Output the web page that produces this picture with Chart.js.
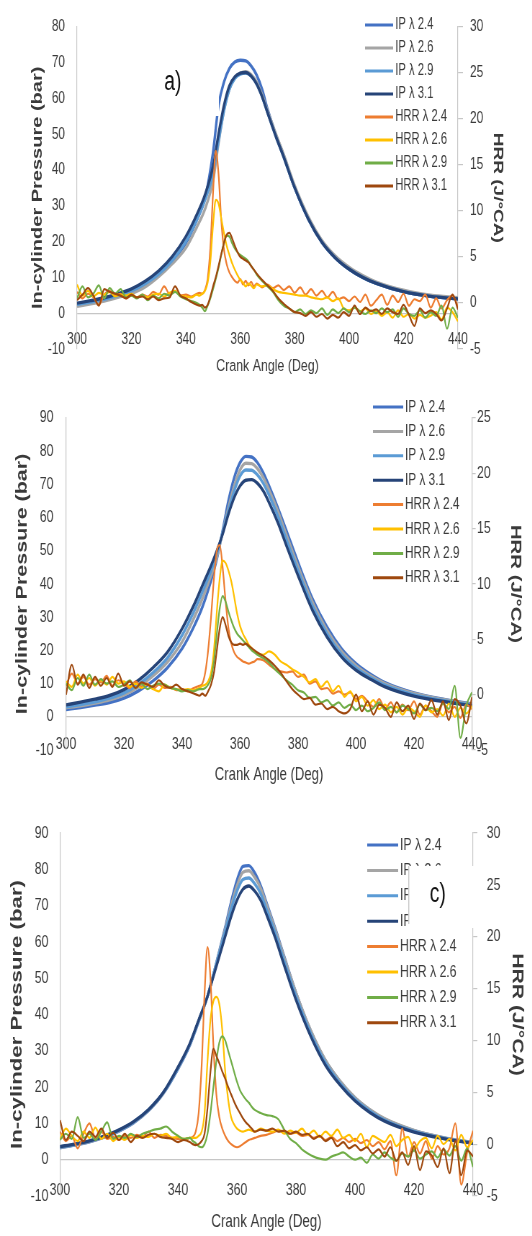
<!DOCTYPE html>
<html>
<head>
<meta charset="utf-8">
<script src="https://cdn.jsdelivr.net/npm/chart.js@4.4.1/dist/chart.umd.min.js"></script>
<style>
  html, body { margin: 0; padding: 0; background: #fff; overflow: hidden; }
  body { width: 532px; height: 1236px; position: relative; }
  .panel { position: absolute; left: 0; width: 739px; transform: scaleX(0.72); transform-origin: 0 0; }
  canvas { display: block; }
</style>
</head>
<body>
<div class="panel" style="top:0px"><canvas id="chartA" width="739" height="390"></canvas></div>
<div class="panel" style="top:390px"><canvas id="chartB" width="739" height="410"></canvas></div>
<div class="panel" style="top:800px"><canvas id="chartC" width="739" height="436"></canvas></div>
<script>
// crank angles (deg) for pressure and heat release rate curves
var ipAngle = [300,305,310,315,320,325,330,335,340,344,347,350,352,354,356,358,360,362,364,366,368,370,373,376,380,385,390,395,400,405,410,420,430,440];
var hrrAngle = [300,302,304,306,308,310,312,314,316,318,320,322,324,326,328,330,332,334,336,338,340,342,344,
  345,346,347,348,349,350,351,352,353,354,355,356,357,358,359,360,361,362,363,364,365,
  366,368,370,372,374,376,378,380,382,384,386,388,390,392,394,396,398,400,402,404,406,408,410,412,414,416,418,420,422,424,426,428,430,432,434,436,438,440];

var seriesNames = ["IP λ 2.4", "IP λ 2.6", "IP λ 2.9", "IP λ 3.1", "HRR λ 2.4", "HRR λ 2.6", "HRR λ 2.9", "HRR λ 3.1"];
var seriesColors = ["#4472C4", "#A5A5A5", "#5B9BD5", "#264478", "#ED7D31", "#FFC000", "#70AD47", "#9E480E"];

// ---- panel a) ----
var ipA24 = [2.3,2.9,3.7,4.7,6.0,7.9,10.7,14.5,19.6,26,32,45,58,64.5,68.3,70.1,70.6,70.4,69,66.5,62.5,57,50,44,35,26.3,19.8,15.4,12.3,10,8.3,6,4.7,4.0];
var ipA26 = [1.9,2.6,3.4,4.4,5.5,7.3,10.2,13.8,18.2,24,29,37,47.5,56.5,62.5,65.8,67,67.4,66.6,64.5,61,56.6,50.2,44.2,35.6,26.9,20.3,15.9,12.8,10.5,8.7,6.4,5.0,4.3];
var ipA29 = [2.5,3.1,3.9,4.9,6.2,8.2,10.9,14.7,20,26,31.5,39,48,56.5,62.5,65.5,66.7,67,66.2,64,60.5,56,49.5,43.5,35,26.3,19.8,15.4,12.3,10,8.3,6,4.7,4.0];
var ipA31 = [2.8,3.5,4.3,5.4,6.8,8.9,11.8,15.8,21.4,27.5,33,41,50,58,63.5,66,67,67.2,66.2,64,60.5,56,49.5,43.5,35,26.3,19.8,15.4,12.3,10,8.3,6,4.7,4.0];
var hrrA24 = [1.2,0.5,1.0,0.6,-0.2,0.9,1.3,0.8,1.0,0.5,0.8,0.6,0.9,0.7,1.2,0.9,1.8,1.0,1.3,0.8,0.9,0.7,1.0,
  1.1,1.0,1.4,2.6,6.0,12.0,16.5,14.0,9.0,5.8,4.2,3.3,2.8,2.4,2.2,2.6,2.0,2.4,1.9,2.3,1.8,
  2.1,1.7,2.0,1.6,1.9,1.4,1.8,1.1,1.7,0.9,1.5,0.8,1.3,0.6,1.2,0.4,0.6,0.2,0.7,0.1,0.9,-0.3,0.3,0.9,-0.2,0.8,0.1,1.0,-0.3,0.4,0.2,0.9,-0.5,0.5,-0.6,0.3,0.8,-0.4];
var hrrA26 = [2.0,0.8,1.3,0.7,1.1,0.9,1.2,0.7,0.9,0.8,1.0,0.6,0.8,0.6,0.9,1.0,0.7,1.1,1.3,0.8,0.7,0.6,0.9,
  0.8,1.0,1.3,2.2,4.5,8.5,11.2,10.8,9.2,7.6,6.2,5.2,4.3,3.6,3.0,2.5,2.2,1.8,2.1,1.9,1.6,
  2.0,1.8,1.9,1.5,1.2,1.1,1.0,0.9,0.8,0.8,0.6,0.5,0.4,0.6,0.2,0.5,-0.6,-0.8,-0.5,-0.9,-0.6,-1.2,-0.9,-1.4,-1.0,-1.6,-0.8,-1.5,-1.2,-1.7,-1.3,-1.6,-1.4,-1.0,-1.8,-0.5,-1.0,-2.0];
var hrrA29 = [0.5,1.8,0.6,1.0,1.9,0.5,1.6,1.0,1.5,0.6,0.8,0.5,0.9,0.3,0.8,0.5,1.0,0.8,1.2,0.7,0.4,0.2,0.0,
  -0.2,-0.5,-0.9,-0.3,0.5,1.5,2.6,3.8,5.2,6.5,7.3,7.2,6.5,5.9,5.5,5.2,5.0,4.8,4.5,4.0,3.6,
  3.1,2.4,1.8,1.2,0.3,-0.3,-0.6,-1.0,-0.7,-1.2,-0.8,-1.1,-0.6,-1.3,-0.7,-1.1,-0.6,-1.0,-0.5,-0.9,-1.2,-0.8,-1.1,-0.6,-1.0,-0.7,-1.5,-0.6,-1.2,-1.4,-0.8,-1.6,-1.0,-1.4,-0.3,-2.8,-0.5,-1.6];
var hrrA31 = [0.3,0.9,1.6,0.8,-0.3,1.5,1.2,1.0,0.8,0.5,0.9,0.6,0.7,0.4,0.7,0.3,0.5,0.6,1.8,0.8,0.5,0.1,-0.2,
  -0.3,-0.2,-0.5,-0.2,0.7,1.8,2.8,4.0,5.3,6.5,7.4,7.6,7.0,6.2,5.5,5.0,4.8,4.6,4.4,4.0,3.6,
  3.2,2.5,1.9,1.3,0.5,-0.1,-0.6,-1.0,-1.1,-1.4,-1.0,-1.5,-1.2,-1.7,-1.3,-1.6,-1.0,-1.4,-0.3,-1.2,-0.5,-0.9,-0.7,-1.2,-0.6,-1.0,-1.2,-0.2,-1.3,-2.5,-0.6,-1.1,-0.8,-1.2,-1.9,-0.6,0.9,-0.7];

// ---- panel b) ----
var ipB24 = [2.2,2.8,3.5,4.3,5.6,7.8,10.8,14.8,20.5,27,33,41,47.5,56,65,72,76.5,78.4,78.2,76.5,73.5,69.5,63,56,46.5,35.5,27,20.5,16,12.8,10.3,7.2,5.3,3.9];
var ipB26 = [2.7,3.3,4.1,5.1,6.6,9,12.3,16.5,22.5,29.5,35.5,42.5,48,55.5,63,69.5,74.3,76.3,76.2,74.7,72,68.3,62,54.7,45.3,34.5,26,19.7,15.4,12.3,10,7,5.2,3.7];
var ipB29 = [3.0,3.7,4.5,5.6,7.2,9.8,13.3,17.8,24.5,31.5,37.5,44,49,55.5,62,68,72.5,74.3,74.2,72.8,70.3,66.7,60.5,53.3,44,33.3,25,18.8,14.7,11.8,9.5,6.6,4.9,3.5];
var ipB31 = [3.6,4.4,5.3,6.4,8.2,11,14.8,19.5,26.5,33.5,39.5,45.5,50,55,61,66,69.5,71.2,71.4,70.3,68,64.5,58.5,51.5,42.5,32,24,18,14,11.3,9,6.2,4.6,3.3];
var hrrB24 = [0.8,1.9,1.0,1.6,0.9,1.4,1.1,1.7,0.8,1.3,1.0,0.6,1.2,0.7,1.0,0.5,0.9,0.6,0.7,0.4,0.5,0.3,0.6,
  0.7,0.8,1.0,2.0,4.0,7.0,10.5,13.0,13.5,11.5,8.5,6.0,4.6,3.8,3.4,3.2,3.0,2.9,2.8,2.9,3.0,
  3.2,3.1,2.7,2.3,2.1,2.0,2.1,1.6,1.8,1.0,1.2,0.5,0.6,0.1,0.3,0.0,0.2,-0.4,-0.1,-0.6,-1.1,-0.4,-1.3,-0.7,-1.6,-0.9,-1.4,-0.6,-1.8,-1.0,-1.5,-2.0,-0.8,-1.6,-1.1,-2.1,-0.9,-1.3];
var hrrB26 = [1.2,0.7,1.8,1.0,1.5,0.8,1.3,0.9,1.6,1.0,1.2,0.7,1.0,0.6,0.9,0.5,0.3,0.9,0.6,0.5,0.4,0.5,0.4,
  0.5,0.6,0.8,0.9,1.2,2.0,4.0,7.5,10.5,12.1,11.9,11.2,10.2,8.8,7.3,6.2,5.5,5.0,4.5,4.2,3.9,
  3.7,3.6,3.9,3.6,3.0,2.7,2.3,2.0,1.6,1.1,1.4,0.7,1.2,0.3,0.8,-0.2,0.3,-0.6,-0.2,-1.0,-0.5,-1.3,-0.9,-1.6,-1.1,-1.8,-1.2,-1.5,-2.0,-1.0,-1.6,-1.3,-1.9,-0.8,-2.0,-1.2,-1.7,-1.0];
var hrrB29 = [1.0,0.4,1.5,0.8,1.8,0.9,1.4,1.0,1.2,0.7,0.9,1.3,0.6,1.0,0.5,0.8,1.0,0.9,0.6,0.5,0.3,0.4,0.3,
  0.4,0.5,0.5,0.6,0.9,1.5,3.0,5.5,7.8,8.9,8.4,7.5,6.7,6.0,5.5,5.2,4.9,4.6,4.3,4.0,3.8,
  3.6,3.3,2.9,2.3,1.8,1.3,0.9,0.4,0.2,-0.3,-0.2,-0.7,-0.5,-1.0,-0.7,-1.2,-0.9,-1.4,-1.0,-1.5,-1.2,-0.7,-1.4,-1.1,-1.6,-1.0,-1.3,-1.7,-0.9,-1.4,-1.2,-1.5,-0.8,-1.3,0.8,-3.9,-1.0,0.2];
var hrrB31 = [0.0,2.7,0.9,1.8,0.6,1.6,0.8,1.5,0.7,1.9,0.8,1.2,0.6,1.1,0.9,0.7,1.3,0.8,0.6,0.9,0.5,0.3,0.1,
  0.0,-0.1,0.1,-0.1,0.3,0.9,2.0,4.0,6.0,7.0,6.3,5.3,4.7,4.5,4.5,4.6,4.5,4.6,4.4,4.2,4.0,
  3.8,3.5,3.1,2.6,2.0,1.2,0.5,0.0,-0.4,-0.3,-0.9,-0.8,-1.3,-1.1,-1.5,-1.7,-1.3,0.0,-1.5,-0.6,-1.8,-0.9,-1.2,-2.0,-0.7,-1.5,-1.0,-2.2,-0.8,-1.4,-0.5,-1.8,-0.6,-2.3,-0.4,-1.0,-2.6,-0.2];

// ---- panel c) ----
var ipC24 = [3.3,4.0,4.9,6.2,7.9,10.2,13.5,18.2,25,31.5,38,45,51,57.5,64,71,77,80.8,81,79,75.5,70.8,63.6,56,46,35.5,27.3,21.5,17,13.7,11.2,8,6,4.7];
var ipC26 = [3.4,4.1,5.0,6.3,8.0,10.3,13.6,18.3,25.2,31.7,38.2,45,51,57.3,63.5,70,75.5,79.2,79.6,77.8,74.8,70.3,63.3,55.7,46,35.6,27.4,21.6,17.1,13.8,11.3,8.1,6.1,4.7];
var ipC29 = [3.5,4.2,5.1,6.4,8.1,10.4,13.7,18.4,25.3,31.8,38.3,45,51,57,63,69,74,77.2,77.6,76,73.3,69,62.3,54.7,45,34.8,26.7,21,16.6,13.4,10.9,7.8,5.9,4.6];
var ipC31 = [3.6,4.3,5.2,6.5,8.2,10.5,13.8,18.5,25.5,32,38.5,45,50.5,56,61.5,67,71.5,74.5,75.4,74,71.5,67.5,61,53.5,44,34,26,20.5,16.2,13,10.6,7.6,5.8,4.5];
var hrrC24 = [1.2,0.3,0.8,-0.4,1.0,2.0,0.6,1.2,0.5,0.7,0.4,0.8,0.6,0.9,0.7,1.2,0.6,0.9,0.8,0.6,0.5,0.4,0.6,
  0.7,1.2,3.0,7.5,14.5,19.0,16.0,9.5,4.8,2.6,1.5,0.8,0.3,0.0,-0.2,-0.3,-0.2,0.0,0.2,0.4,0.5,
  0.6,0.8,0.9,1.1,1.3,1.2,1.0,1.1,0.8,0.9,0.6,0.8,0.4,0.7,0.3,0.6,0.2,0.5,0.1,0.4,-0.2,0.2,-0.5,0.3,-3.0,1.5,-1.2,0.2,-0.9,0.3,-1.4,-0.2,-1.0,-0.4,2.0,-3.9,-0.8,1.3];
var hrrC26 = [0.5,1.5,0.8,0.3,1.2,0.6,1.6,0.5,1.0,0.3,0.7,0.4,0.9,0.6,0.8,0.7,1.0,0.8,1.0,0.6,0.7,0.5,0.6,
  0.6,0.6,0.8,1.2,3.0,8.0,12.0,13.8,14.2,13.5,11.0,7.0,4.3,2.6,1.9,1.5,1.3,1.2,1.3,1.4,1.3,
  1.2,1.5,1.3,1.2,1.4,1.0,1.3,1.1,1.5,0.9,1.3,0.7,1.2,0.8,1.4,0.6,0.9,0.3,1.0,-0.3,0.8,0.5,0.2,0.9,-0.2,0.4,0.7,-0.5,0.3,0.6,-0.4,0.8,0.0,0.5,-0.6,0.9,-0.3,0.4];
var hrrC29 = [0.4,1.0,0.5,2.6,0.6,1.0,0.4,1.2,2.1,0.5,0.8,0.6,1.0,0.7,1.0,1.2,1.4,1.5,1.7,1.2,0.8,0.5,0.6,
  0.3,0.1,-0.2,-0.3,0.0,1.0,3.0,5.5,8.0,9.8,10.4,10.0,9.0,8.0,7.0,6.0,5.2,4.7,4.3,4.0,3.6,
  3.3,3.0,2.8,2.7,2.4,1.4,0.5,0.1,-0.5,-0.9,-1.2,-1.4,-1.5,-1.2,-1.0,-0.8,-1.2,-1.5,-1.3,-1.8,-1.0,-1.4,-0.8,-1.3,-1.6,-0.9,-1.2,-0.6,-1.4,-1.0,-0.7,-1.3,-0.5,-1.1,-0.2,-1.6,-0.4,-2.2];
var hrrC31 = [2.3,0.4,1.2,0.8,0.3,1.2,0.7,1.5,0.6,1.1,0.4,1.0,0.2,0.8,0.6,0.9,1.0,0.7,0.6,0.5,0.2,0.4,0.2,
  0.0,-0.1,0.0,0.3,1.0,3.5,7.0,9.2,8.5,7.8,7.0,6.3,5.5,4.8,4.1,3.5,3.0,2.5,2.1,1.8,1.5,
  1.2,1.4,1.3,1.5,1.2,1.3,1.0,1.2,0.9,1.0,0.5,0.8,0.3,0.6,-0.2,0.2,-0.4,-0.1,-0.6,-0.3,-0.9,-0.5,-1.2,-0.3,-1.6,-0.8,-2.0,-0.2,-2.5,-0.7,-1.1,-2.2,-0.4,-2.8,0.3,-3.0,-0.6,-1.2];

var txt = '#3a3a3a';
var axisGray = '#c6c6c6';
var fam = "'Liberation Sans', Arial, sans-serif";
Chart.defaults.font.family = fam;

function toPoints(xs, ys) {
  return xs.map(function(x, i) { return { x: x, y: ys[i] }; });
}

// legend drawn inside the plot + the white "a)" / "c)" label boxes
function makeOverlay(lg, note) {
  return {
    id: 'overlay',
    afterDraw: function(chart) {
      var ctx = chart.ctx;
      ctx.save();
      ctx.font = lg.size + 'px ' + fam;
      ctx.textBaseline = 'middle';
      ctx.textAlign = 'left';
      chart.data.datasets.forEach(function(ds, i) {
        var y = lg.y0 + lg.dy * i;
        ctx.strokeStyle = ds.borderColor;
        ctx.lineWidth = 3;
        ctx.beginPath();
        ctx.moveTo(lg.x0, y);
        ctx.lineTo(lg.x1, y);
        ctx.stroke();
        ctx.fillStyle = txt;
        ctx.fillText(ds.label, lg.tx, y);
      });
      if (note) {
        ctx.fillStyle = '#fff';
        ctx.fillRect(note.x, note.y, note.w, note.h);
        if (note.edge) {
          ctx.strokeStyle = axisGray;
          ctx.lineWidth = 1.4;
          ctx.beginPath();
          ctx.moveTo(note.x + 1, note.y);
          ctx.lineTo(note.x + 1, note.y + note.h - 4);
          ctx.stroke();
        }
        ctx.fillStyle = '#111';
        ctx.font = note.size + 'px ' + fam;
        ctx.textAlign = 'center';
        ctx.fillText(note.text, note.tx, note.ty);
      }
      ctx.restore();
    }
  };
}

function drawPanel(id, ip, hrr, L) {
  var datasets = [];
  ip.forEach(function(vals, i) {
    datasets.push({ label: seriesNames[i], data: toPoints(ipAngle, vals), yAxisID: 'yP',
      borderColor: seriesColors[i], borderWidth: 3.4, order: 7 - i });
  });
  hrr.forEach(function(vals, i) {
    datasets.push({ label: seriesNames[4 + i], data: toPoints(hrrAngle, vals), yAxisID: 'yH',
      borderColor: seriesColors[4 + i], borderWidth: 2.2, order: 3 - i });
  });

  new Chart(document.getElementById(id), {
    type: 'line',
    data: { datasets: datasets },
    options: {
      responsive: false,
      animation: false,
      devicePixelRatio: 1,
      layout: { padding: { top: L.padTop, left: 0, right: 0, bottom: 0 } },
      elements: {
        point: { radius: 0 },
        line: { cubicInterpolationMode: 'monotone', fill: false }
      },
      plugins: { legend: { display: false }, tooltip: { enabled: false } },
      scales: {
        x: {
          type: 'linear', min: 300, max: 440,
          afterFit: function(s) { s.height = L.xH; },
          grid: { display: false },
          border: { display: false },
          // mirror keeps the labels unclipped so they can sit just above the plot bottom
          ticks: { stepSize: 20, autoSkip: false, maxRotation: 0, mirror: true, padding: L.xTickPad,
                   color: txt, font: { size: L.tick } },
          title: { display: true, text: 'Crank Angle (Deg)', color: txt, font: { size: L.xTitle },
                   padding: { top: 0, bottom: L.xTitlePad } }
        },
        yP: {
          position: 'left', min: -10, max: L.pMax,
          afterFit: function(s) { s.width = L.leftW; },
          grid: { drawTicks: false, lineWidth: 1.2,
                  color: function(c) { return c.tick && c.tick.value === 0 ? axisGray : 'rgba(0,0,0,0)'; } },
          border: { color: axisGray, width: 1.2 },
          ticks: { stepSize: 10, padding: L.lTickPad, color: txt, font: { size: L.tick } },
          title: { display: true, text: 'In-cylinder Pressure (bar)', color: txt,
                   font: { size: L.yTitle, weight: 'bold' }, padding: { top: L.lTitlePad, bottom: 0 } }
        },
        yH: {
          position: 'right', min: -5, max: L.hMax,
          afterFit: function(s) { s.width = L.rightW; },
          grid: { drawOnChartArea: false, tickLength: L.rTick, color: axisGray, lineWidth: 1.2 },
          border: { color: axisGray, width: 1.2 },
          ticks: { stepSize: 5, padding: L.rTickPad, color: txt, font: { size: L.tick } },
          title: { display: true, text: 'HRR (J/°CA)', color: txt,
                   font: { size: L.hTitle, weight: 'bold' }, padding: { top: L.rTitlePad, bottom: 0 } }
        }
      }
    },
    plugins: [makeOverlay(L.legend, L.note)]
  });
}

drawPanel('chartA', [ipA24, ipA26, ipA29, ipA31], [hrrA24, hrrA26, hrrA29, hrrA31], {
  padTop: 17.5, leftW: 107, rightW: 103, xH: 41, pMax: 80, hMax: 30,
  tick: 16.5, xTitle: 17.2, yTitle: 20, hTitle: 19,
  xTickPad: -0.5, xTitlePad: 13, lTickPad: 16.7, rTick: 7, rTickPad: 9.7, lTitlePad: 40, rTitlePad: 35.9,
  legend: { x0: 507, x1: 546, tx: 549, y0: 25, dy: 23, size: 15.6 },
  note: { x: 194, y: 55, w: 110, h: 61, text: 'a)', tx: 240, ty: 83, size: 27 }
});

drawPanel('chartB', [ipB24, ipB26, ipB29, ipB31], [hrrB24, hrrB26, hrrB29, hrrB31], {
  padTop: 10, leftW: 91.7, rightW: 83.4, xH: 50, pMax: 90, hMax: 25,
  tick: 17, xTitle: 18.2, yTitle: 21.5, hTitle: 20.4,
  xTickPad: -5, xTitlePad: 14.2, lTickPad: 17.6, rTick: 5, rTickPad: 2, lTitlePad: 18.4, rTitlePad: 11.5,
  legend: { x0: 518, x1: 560, tx: 562.5, y0: 17, dy: 24.4, size: 16.4 },
  note: null
});

drawPanel('chartC', [ipC24, ipC26, ipC29, ipC31], [hrrC24, hrrC26, hrrC29, hrrC31], {
  padTop: 33, leftW: 83.3, rightW: 82, xH: 40, pMax: 90, hMax: 30,
  tick: 17, xTitle: 18.5, yTitle: 22.2, hTitle: 21.2,
  xTickPad: -4.2, xTitlePad: 3, lTickPad: 16.2, rTick: 6, rTickPad: 13, lTitlePad: 11, rTitlePad: 8.3,
  legend: { x0: 510, x1: 553, tx: 555.6, y0: 45, dy: 25.4, size: 17 },
  note: { x: 566.7, y: 66, w: 108, h: 62, text: 'c)', tx: 608, ty: 95, size: 27, edge: true }
});
</script>
</body>
</html>
